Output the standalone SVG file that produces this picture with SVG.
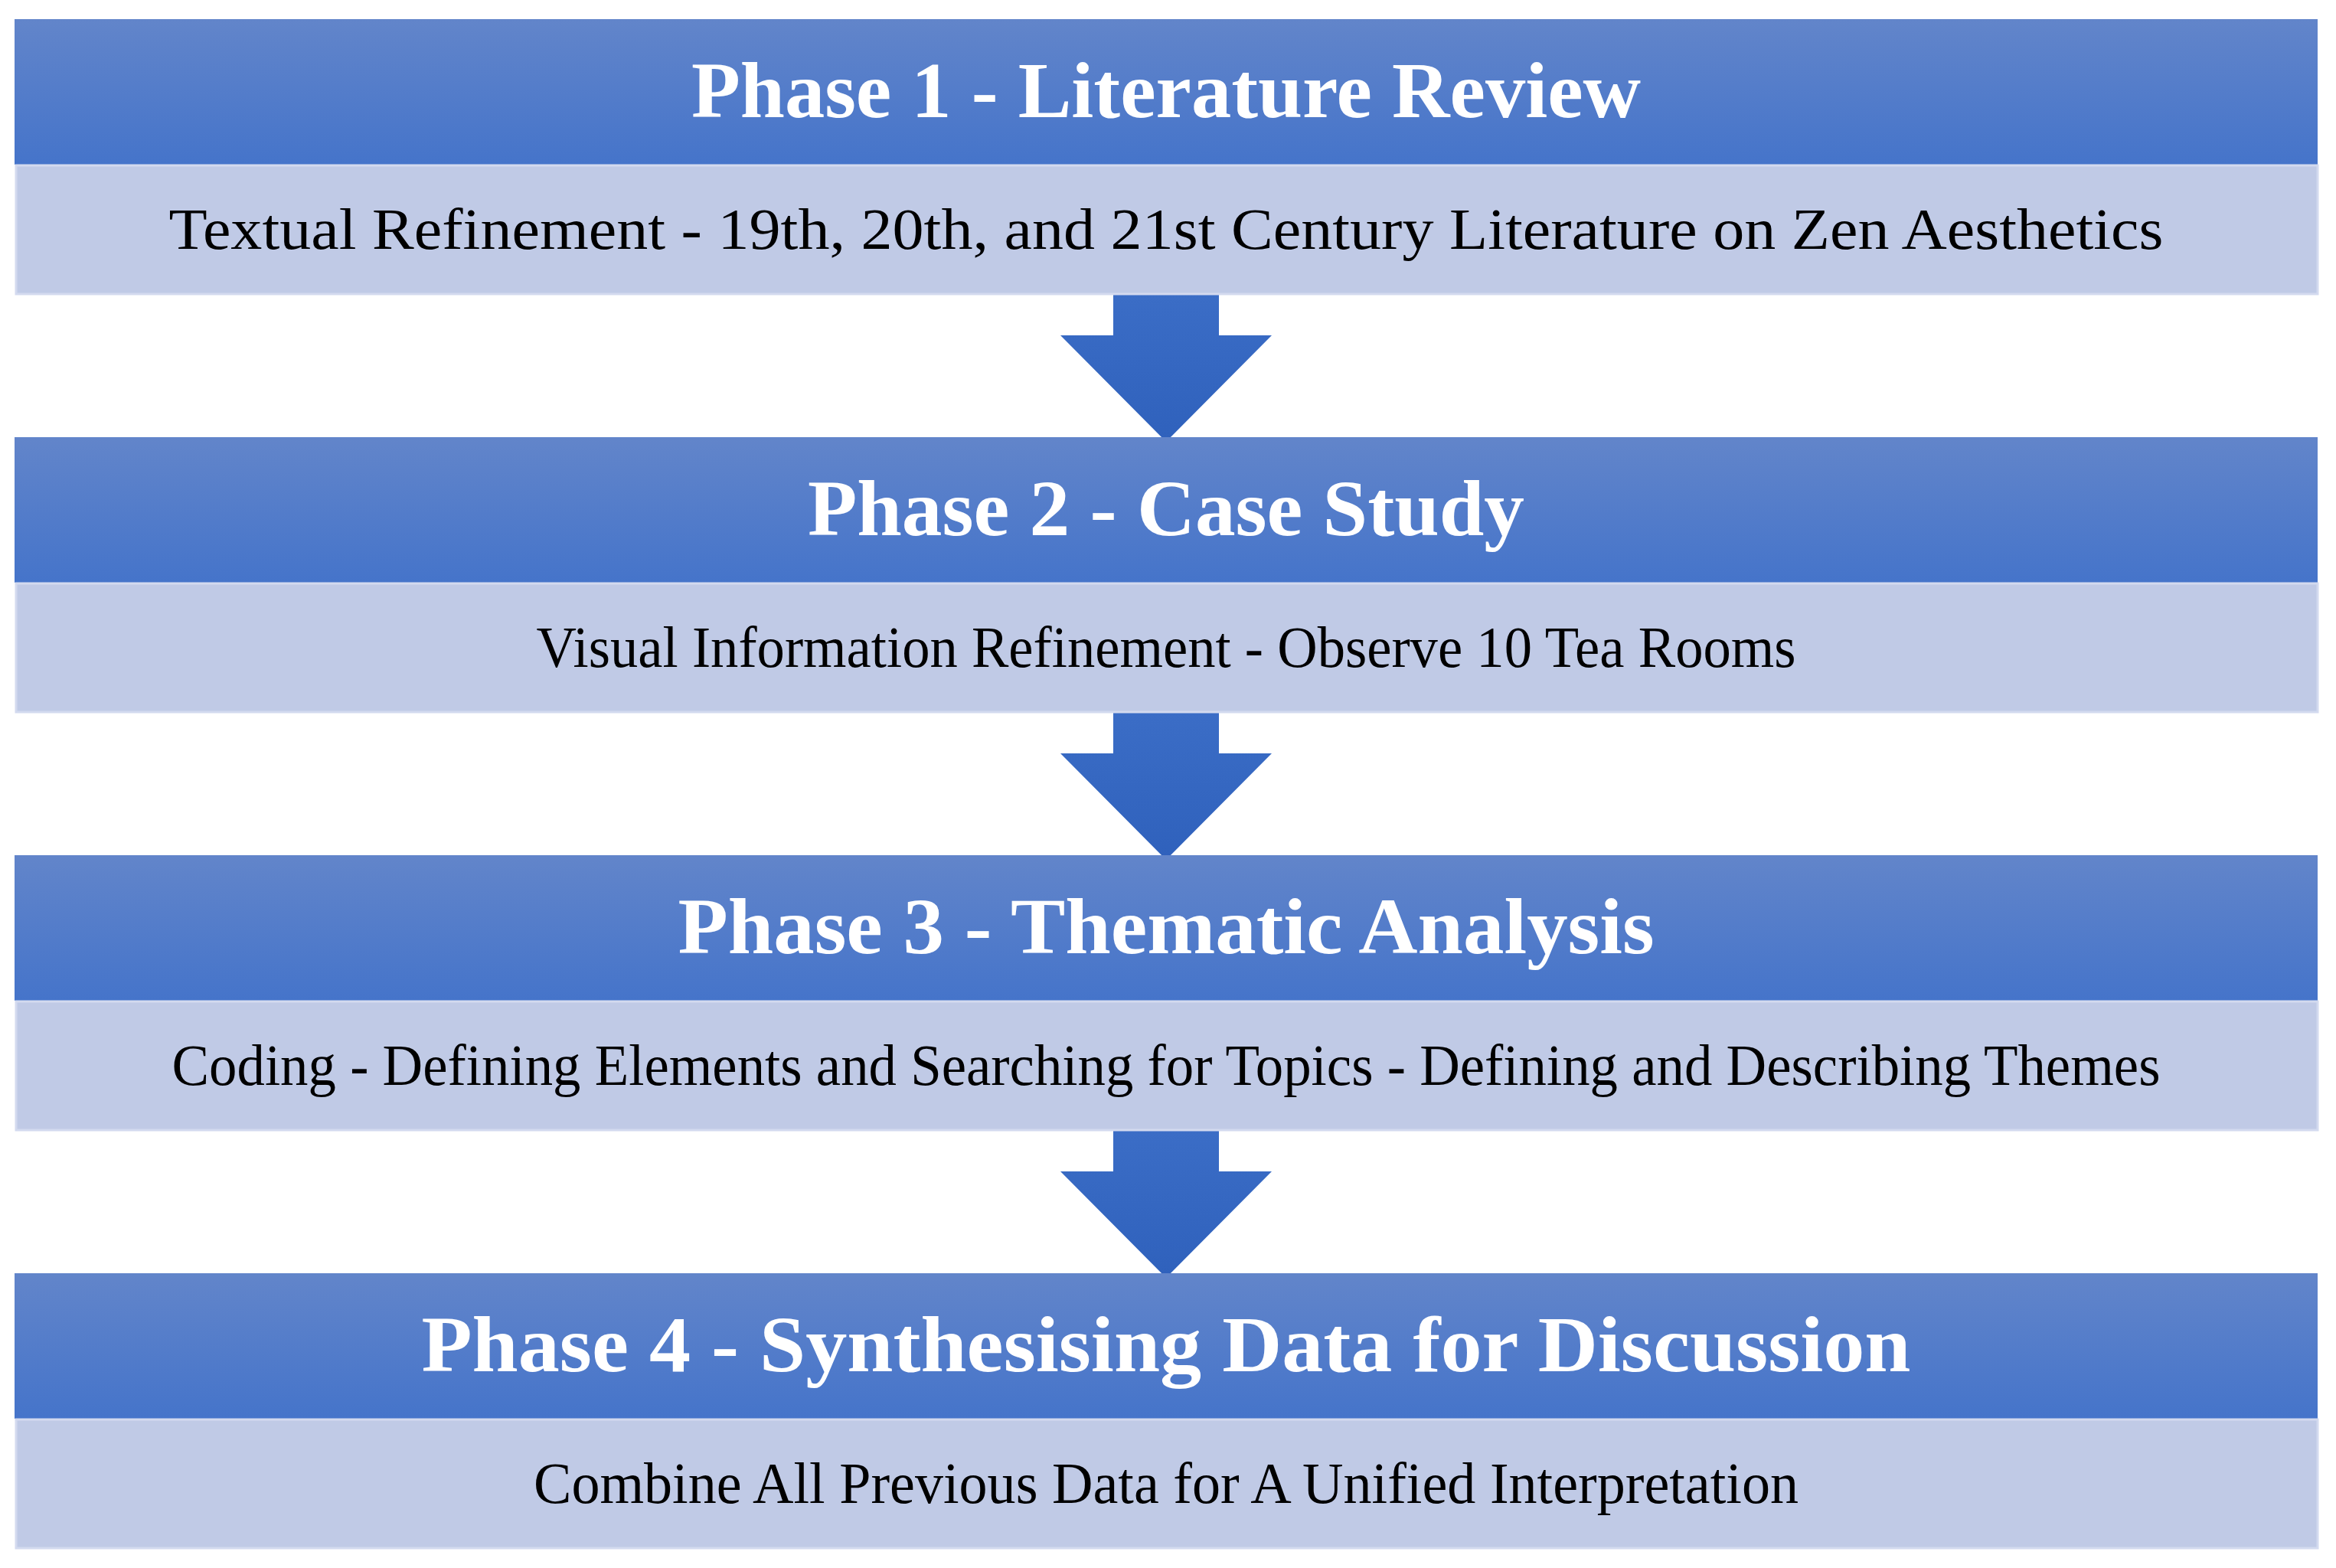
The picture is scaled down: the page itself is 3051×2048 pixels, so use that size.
<svg xmlns="http://www.w3.org/2000/svg" width="3051" height="2048" viewBox="0 0 3051 2048">
<style>
.hdr{font-family:"Liberation Serif","DejaVu Serif",serif;font-weight:bold;font-size:104px;fill:#ffffff;text-anchor:middle}
.sub{font-family:"Liberation Serif","DejaVu Serif",serif;font-size:76px;fill:#000000;text-anchor:middle}
.subbox{fill:#c0cae6;stroke:#d3daef;stroke-width:3}
.arrow{fill:url(#ag)}
</style>
<defs>
<linearGradient id="hg" x1="0" y1="0" x2="0" y2="1">
<stop offset="0" stop-color="#6285ca"/>
<stop offset="1" stop-color="#4574ca"/>
</linearGradient>
<linearGradient id="ag" x1="0" y1="0" x2="0" y2="1">
<stop offset="0" stop-color="#3b6dc6"/>
<stop offset="1" stop-color="#2f61bc"/>
</linearGradient>
</defs>
<rect width="3051" height="2048" fill="#ffffff"/>
<g id="connectors">
<polygon class="arrow" points="1454,385 1592,385 1592,438 1661,438 1523,577 1385,438 1454,438"/>
<polygon class="arrow" points="1454,931 1592,931 1592,984 1661,984 1523,1123 1385,984 1454,984"/>
<polygon class="arrow" points="1454,1477 1592,1477 1592,1530 1661,1530 1523,1669 1385,1530 1454,1530"/>
</g>
<g id="phase1">
<rect x="19" y="25" width="3008" height="190" fill="url(#hg)"/>
<text class="hdr" x="1523" y="153" textLength="1240" lengthAdjust="spacingAndGlyphs">Phase 1 - Literature Review</text>
<rect class="subbox" x="21" y="216" width="3006" height="168"/>
<text class="sub" x="1523" y="325" textLength="2605" lengthAdjust="spacingAndGlyphs">Textual Refinement - 19th, 20th, and 21st Century Literature on Zen Aesthetics</text>
</g>
<g id="phase2">
<rect x="19" y="571" width="3008" height="190" fill="url(#hg)"/>
<text class="hdr" x="1523" y="699" textLength="936" lengthAdjust="spacingAndGlyphs">Phase 2 - Case Study</text>
<rect class="subbox" x="21" y="762" width="3006" height="168"/>
<text class="sub" x="1523" y="871" textLength="1645" lengthAdjust="spacingAndGlyphs">Visual Information Refinement - Observe 10 Tea Rooms</text>
</g>
<g id="phase3">
<rect x="19" y="1117" width="3008" height="190" fill="url(#hg)"/>
<text class="hdr" x="1523" y="1245" textLength="1275" lengthAdjust="spacingAndGlyphs">Phase 3 - Thematic Analysis</text>
<rect class="subbox" x="21" y="1308" width="3006" height="168"/>
<text class="sub" x="1523" y="1417" textLength="2597" lengthAdjust="spacingAndGlyphs">Coding - Defining Elements and Searching for Topics - Defining and Describing Themes</text>
</g>
<g id="phase4">
<rect x="19" y="1663" width="3008" height="190" fill="url(#hg)"/>
<text class="hdr" x="1523" y="1791" textLength="1945" lengthAdjust="spacingAndGlyphs">Phase 4 - Synthesising Data for Discussion</text>
<rect class="subbox" x="21" y="1854" width="3006" height="168"/>
<text class="sub" x="1523" y="1963" textLength="1652" lengthAdjust="spacingAndGlyphs">Combine All Previous Data for A Unified Interpretation</text>
</g>
</svg>
